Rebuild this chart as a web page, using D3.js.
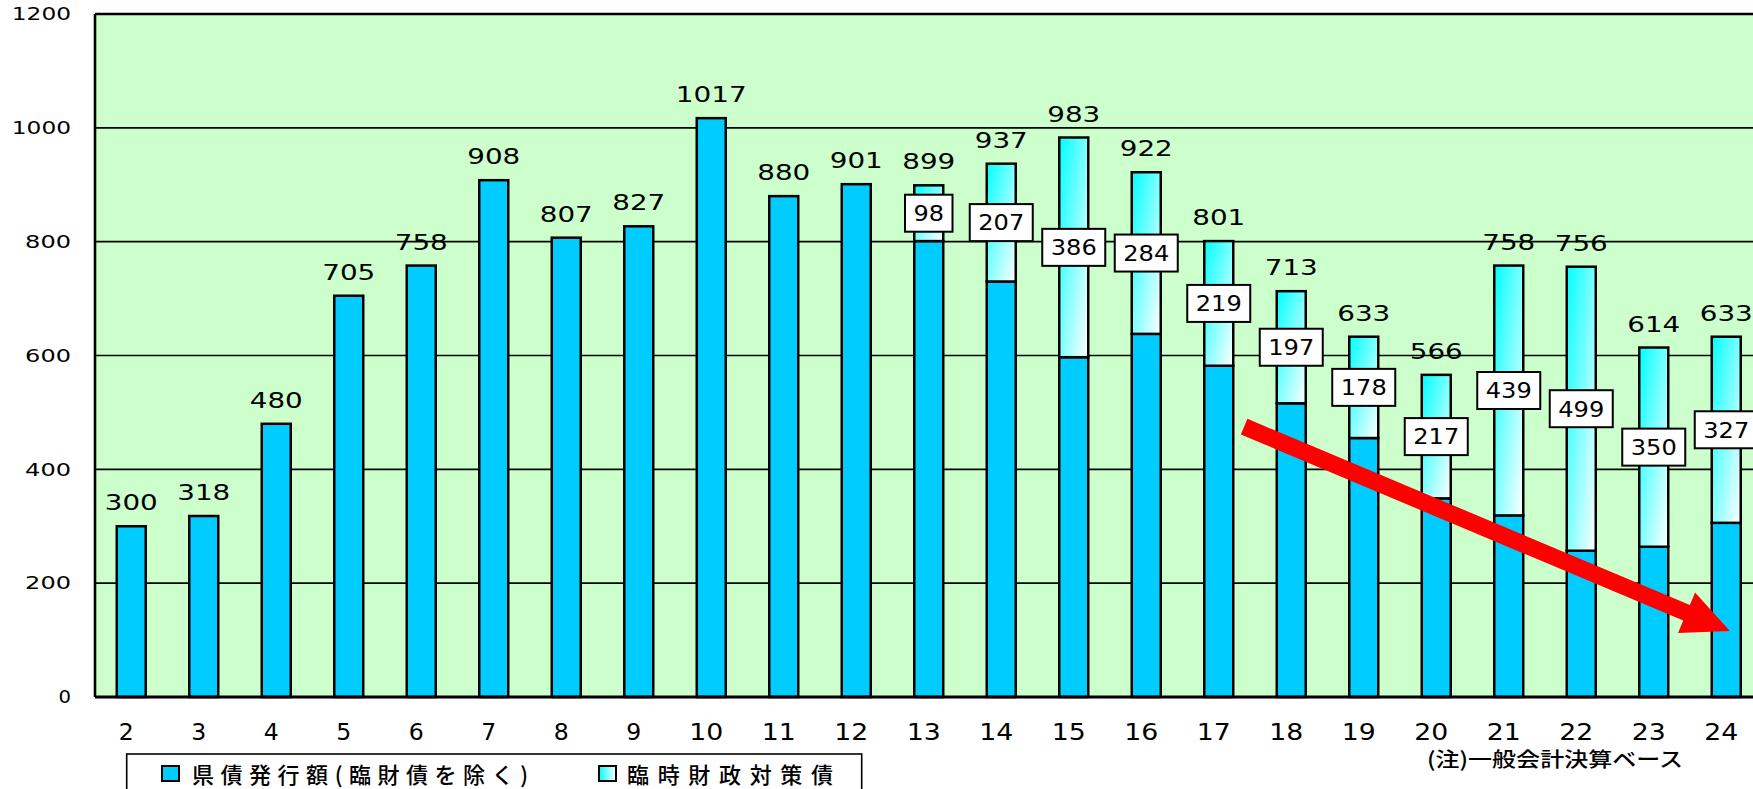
<!DOCTYPE html>
<html><head><meta charset="utf-8">
<script src="https://cdn.jsdelivr.net/npm/d3@7"></script>
<style>
html,body{margin:0;padding:0;background:#fff;}
svg{display:block;}
</style></head>
<body>
<svg id="chart" width="1753" height="789"></svg>
<script>
// ---- data ----
const years = ["2","3","4","5","6","7","8","9","10","11","12","13","14","15","16","17","18","19","20","21","22","23","24"];
const totals = [300,318,480,705,758,908,807,827,1017,880,901,899,937,983,922,801,713,633,566,758,756,614,633];
const rinzai = [0,0,0,0,0,0,0,0,0,0,0,98,207,386,284,219,197,178,217,439,499,350,327];
const kensai = totals.map((t,i)=>t-rinzai[i]);
const yTicks = [0,200,400,600,800,1000,1200];
const seriesNames = ["県債発行額(臨財債を除く)","臨時財政対策債"];
const noteText = "(注)一般会計決算ベース";
// trend arrow annotation (category, fraction of step from centre, value)
const arrowFrom = {cat:"17", off:0.35, value:475};
const arrowTo = {cat:"24", off:0.05, value:116};

// ---- layout ----
const svg = d3.select("#chart");
const pLeft = 95, pTop = 14, pBottom = 697, pRight = 1762.5;
const x = d3.scaleBand().domain(years).range([pLeft,pRight]).paddingInner(0.6).paddingOuter(0.3);
const y = d3.scaleLinear().domain([0,1200]).range([pBottom,pTop]);
const numFont = "'DejaVu Sans', Verdana, sans-serif";
const cjkFont = "'Noto Sans CJK JP', sans-serif";

const defs = svg.append("defs");
const g1 = defs.append("linearGradient").attr("id","grad").attr("x1",0).attr("y1",0).attr("x2",1).attr("y2",1);
g1.append("stop").attr("offset","0%").attr("stop-color","#00FFFF");
g1.append("stop").attr("offset","100%").attr("stop-color","#FFFFFF");
const g2 = defs.append("linearGradient").attr("id","gradH").attr("x1",0).attr("y1",0).attr("x2",1).attr("y2",0);
g2.append("stop").attr("offset","0%").attr("stop-color","#00FFFF");
g2.append("stop").attr("offset","100%").attr("stop-color","#FFFFFF");

// plot background
svg.append("rect").attr("x",pLeft).attr("y",pTop).attr("width",pRight-pLeft).attr("height",pBottom-pTop)
  .attr("fill","#CCFFCC");

// gridlines
svg.append("g").selectAll("line").data(yTicks.filter(v=>v>0&&v<1200)).join("line")
  .attr("x1",pLeft).attr("x2",pRight).attr("y1",d=>y(d)).attr("y2",d=>y(d))
  .attr("stroke","#000").attr("stroke-width",1.6);

// bars
const cx = d => x(d)+x.bandwidth()/2;
const bars = svg.append("g");
bars.selectAll("rect.b").data(years).join("rect").attr("class","b")
  .attr("x",d=>x(d)).attr("width",x.bandwidth())
  .attr("y",(d,i)=>y(kensai[i])).attr("height",(d,i)=>y(0)-y(kensai[i]))
  .attr("fill","#00CCFF").attr("stroke","#000").attr("stroke-width",2.5);
bars.selectAll("rect.t").data(years.filter((d,i)=>rinzai[i]>0)).join("rect").attr("class","t")
  .attr("x",d=>x(d)).attr("width",x.bandwidth())
  .attr("y",d=>y(totals[years.indexOf(d)]))
  .attr("height",d=>{const i=years.indexOf(d);return y(kensai[i])-y(totals[i]);})
  .attr("fill","url(#grad)").attr("stroke","#000").attr("stroke-width",2.5);

// axis frame
svg.append("line").attr("x1",pLeft).attr("x2",pRight).attr("y1",pTop).attr("y2",pTop).attr("stroke","#000").attr("stroke-width",2.6);
svg.append("line").attr("x1",pLeft).attr("x2",pLeft).attr("y1",pTop).attr("y2",pBottom).attr("stroke","#000").attr("stroke-width",2.6);
svg.append("line").attr("x1",pLeft).attr("x2",pRight).attr("y1",pBottom).attr("y2",pBottom).attr("stroke","#000").attr("stroke-width",3);

// arrow
(function(){
  const x0 = cx(arrowFrom.cat)+arrowFrom.off*x.step(), y0 = y(arrowFrom.value);
  const x1 = cx(arrowTo.cat)+arrowTo.off*x.step(), y1 = y(arrowTo.value);
  const len = Math.hypot(x1-x0,y1-y0), ux=(x1-x0)/len, uy=(y1-y0)/len, px=-uy, py=ux;
  const sw=8.5, hw=22, hl=47;
  const bx = x1-ux*hl, by = y1-uy*hl;
  const pts = [[x0+px*sw,y0+py*sw],[bx+px*sw,by+py*sw],[bx+px*hw,by+py*hw],[x1,y1],
               [bx-px*hw,by-py*hw],[bx-px*sw,by-py*sw],[x0-px*sw,y0-py*sw]];
  svg.append("polygon").attr("points",pts.map(p=>p.join(",")).join(" ")).attr("fill","#FF0000");
})();

// value boxes for 臨時財政対策債
const boxes = svg.append("g");
years.forEach((d,i)=>{
  if(!rinzai[i]) return;
  const s = String(rinzai[i]);
  const tw = 15.5*s.length-0.5, bw = tw+17, bh = 37;
  const my = y(kensai[i]+rinzai[i]/2);
  boxes.append("rect").attr("x",cx(d)-bw/2).attr("y",my-bh/2).attr("width",bw).attr("height",bh)
    .attr("fill","#fff").attr("stroke","#000").attr("stroke-width",2);
  boxes.append("text").attr("x",cx(d)).attr("y",my+7.8).attr("text-anchor","middle")
    .attr("font-family",numFont).attr("font-size",21)
    .attr("textLength",tw).attr("lengthAdjust","spacingAndGlyphs").text(s);
});

// total labels
svg.append("g").selectAll("text").data(years).join("text")
  .attr("x",d=>cx(d)).attr("y",(d,i)=>y(totals[i])-16).attr("text-anchor","middle")
  .attr("font-family",numFont).attr("font-size",21)
  .attr("textLength",(d,i)=>18*String(totals[i]).length-1).attr("lengthAdjust","spacingAndGlyphs")
  .text((d,i)=>totals[i]);

// y tick labels
svg.append("g").selectAll("text").data(yTicks).join("text")
  .attr("x",71).attr("y",d=>y(d)+6.3).attr("text-anchor","end")
  .attr("font-family",numFont).attr("font-size",17.5)
  .attr("textLength",d=>String(d).length===1?12.5:13.3*String(d).length+6)
  .attr("lengthAdjust","spacingAndGlyphs").text(d=>d);

// category labels
svg.append("g").selectAll("text").data(years).join("text")
  .attr("x",d=>cx(d)-5).attr("y",740).attr("text-anchor","middle")
  .attr("font-family",numFont).attr("font-size",23)
  .attr("textLength",d=>d.length===1?15:34).attr("lengthAdjust","spacingAndGlyphs").text(d=>d);

// note
svg.append("text").attr("x",1427).attr("y",767).attr("font-family",cjkFont).attr("font-size",20.5)
  .attr("font-weight",500)
  .attr("textLength",256).attr("lengthAdjust","spacingAndGlyphs").text(noteText);

// legend
const lg = svg.append("g");
lg.append("rect").attr("x",126.7).attr("y",754).attr("width",735).attr("height",60)
  .attr("fill","#fff").attr("stroke","#000").attr("stroke-width",1.6);
const legendItems = [
  {name:seriesNames[0], fill:"#00CCFF", mx:162, tx:192, tl:336},
  {name:seriesNames[1], fill:"url(#gradH)", mx:599, tx:627, tl:206}
];
legendItems.forEach(it=>{
  lg.append("rect").attr("x",it.mx).attr("y",766).attr("width",17).attr("height",15)
    .attr("fill",it.fill).attr("stroke","#000").attr("stroke-width",2);
  lg.append("text").attr("x",it.tx).attr("y",783).attr("font-family",cjkFont).attr("font-size",22)
    .attr("font-weight",500).attr("textLength",it.tl).text(it.name);
});
</script>
</body></html>
